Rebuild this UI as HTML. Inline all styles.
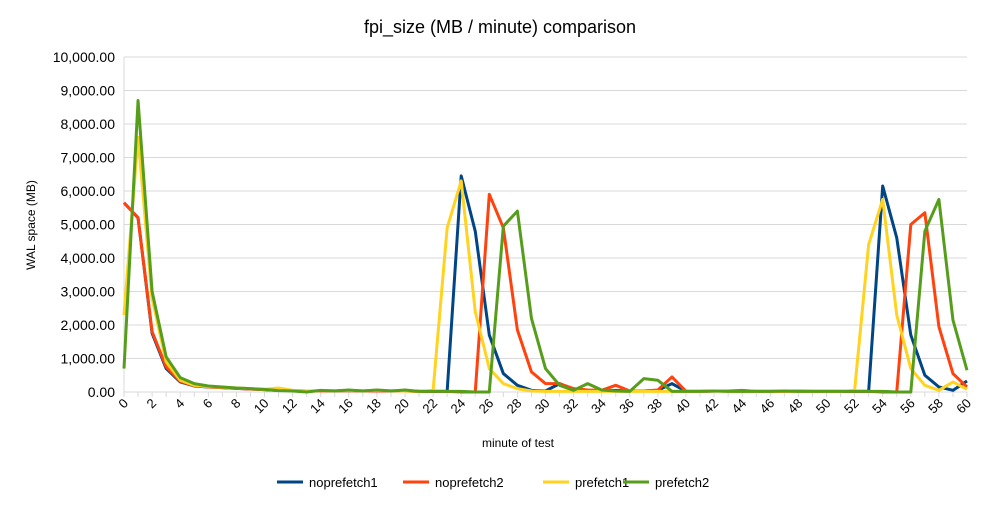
<!DOCTYPE html>
<html><head><meta charset="utf-8"><style>
body{margin:0;background:#fff;font-family:"Liberation Sans",sans-serif}
svg text{font-family:"Liberation Sans",sans-serif}
</style></head><body>
<svg id="c" width="1000" height="500">
<text x="500" y="33" text-anchor="middle" font-size="18" fill="#000">fpi_size (MB / minute) comparison</text>
<text transform="translate(35,225) rotate(-90)" text-anchor="middle" font-size="12">WAL space (MB)</text>
<text x="518" y="447" text-anchor="middle" font-size="12">minute of test</text>
<g id="grid"></g><g id="lines"></g><g id="legend"></g>
</svg>
<script>
const minutes=Array.from({length:61},(_,i)=>i);
const yTicks=[0,1000,2000,3000,4000,5000,6000,7000,8000,9000,10000];
const noprefetch1=[5650,5200,1750,700,300,180,150,130,110,90,70,50,40,30,30,30,40,30,30,30,30,20,20,20,6450,4800,1700,550,200,50,30,250,80,40,30,50,30,30,50,250,20,20,30,30,20,20,20,20,20,20,20,20,20,20,6150,4600,1700,500,150,50,330];
const noprefetch2=[5650,5200,1800,750,320,190,150,130,110,90,70,50,40,30,30,30,40,30,30,30,30,20,20,20,0,0,5900,4900,1850,600,250,250,100,60,50,200,30,30,60,450,20,20,30,30,50,20,20,20,30,20,20,20,20,20,0,0,5000,5350,1950,550,150];
const prefetch1=[2300,7600,2800,900,350,200,160,140,120,100,80,120,50,30,40,40,40,40,50,40,30,20,50,4900,6300,2400,700,250,100,30,20,20,20,20,20,20,20,20,20,20,20,20,30,20,20,20,20,20,20,20,20,20,50,4400,5750,2300,700,200,50,300,80];
const prefetch2=[700,8700,3000,1050,430,250,180,150,120,100,80,40,30,0,50,30,60,30,60,30,60,20,20,20,20,0,0,4950,5400,2200,700,200,50,250,60,30,20,400,350,20,20,20,30,20,20,20,20,30,20,20,20,20,20,20,20,0,0,4800,5750,2150,650];
const series=[["noprefetch1",noprefetch1,"#004586"],["noprefetch2",noprefetch2,"#ff420e"],["prefetch1",prefetch1,"#ffd320"],["prefetch2",prefetch2,"#579d1c"]];
const L=124,R=967,T=57,B=392,NS="http://www.w3.org/2000/svg";
const xs=i=>L+(R-L)*i/60, ys=v=>B-(B-T)*v/10000;
const g=document.getElementById('grid');
function mk(t,a,p){const e=document.createElementNS(NS,t);for(const k in a)e.setAttribute(k,a[k]);p.appendChild(e);return e;}
yTicks.forEach(v=>{
 const l=mk('line',{x1:L,x2:R,y1:ys(v),y2:ys(v),stroke:'#d9d9d9','stroke-width':1},g);
 
 
 const t=mk('text',{x:115,y:ys(v)+5,'text-anchor':'end','font-size':14},g);
 
 
 t.textContent=v.toLocaleString('en-US',{minimumFractionDigits:2});
});
mk('line',{x1:L,x2:L,y1:T,y2:B,stroke:'#d9d9d9'},g);
minutes.forEach(m=>{
 mk('line',{x1:xs(m),x2:xs(m),y1:B,y2:B+5,stroke:'#d9d9d9'},g);
 if(m%2==0){const t=mk('text',{'text-anchor':'end','font-size':13,transform:`translate(${xs(m)+5},${B+12}) rotate(-45)`},g);
 
 
 t.textContent=m;}
});
const lg=document.getElementById('lines'),leg=document.getElementById('legend');
const tx=[309,435,575,655];
series.forEach(([n,d,c],k)=>{
 const p=mk('polyline',{points:d.map((v,i)=>xs(i)+','+ys(v)).join(' '),fill:'none',stroke:c,'stroke-width':3,'stroke-linejoin':'round'},lg);
 
 
 const x=tx[k];
 const ln=mk('line',{x1:x-32,x2:x-6,y1:482,y2:482,stroke:c,'stroke-width':3},leg);
 
 
 const t=mk('text',{x:x,y:487,'font-size':13},leg);
 
 
 t.textContent=n;
});
</script>
</body></html>
